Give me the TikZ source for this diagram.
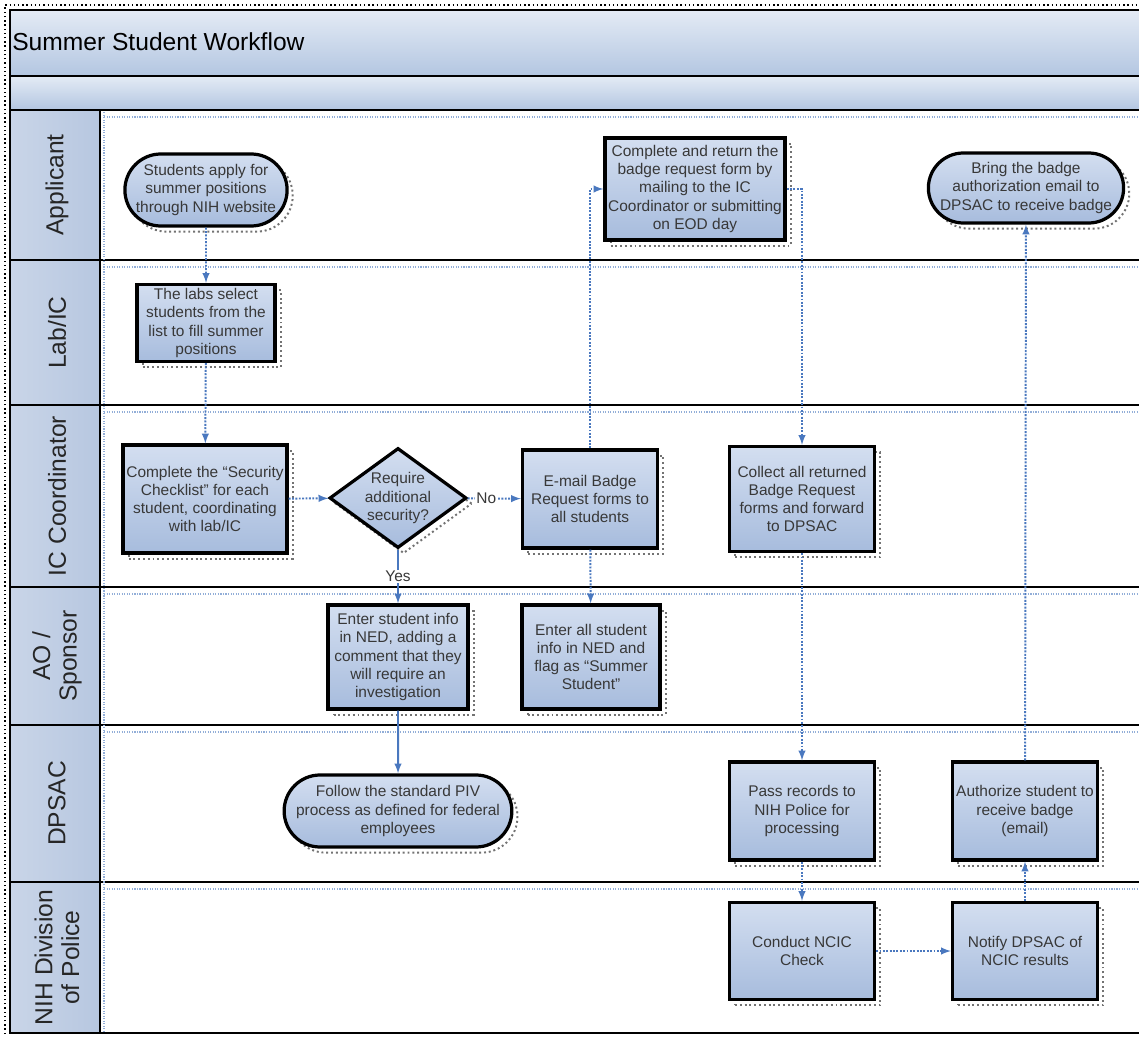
\documentclass[tikz,border=0pt]{standalone}
\usepackage{fontspec}
\setmainfont{Liberation Sans}
\usetikzlibrary{shapes.geometric,shapes.misc,arrows,shadows,calc}

\definecolor{laneblue}{HTML}{C9D5E8}
\definecolor{lanedark}{HTML}{B7C7E0}
\definecolor{boxtop}{HTML}{D3DEF0}
\definecolor{boxbot}{HTML}{A7BCDD}
\definecolor{bandtop}{HTML}{E4EBF5}
\definecolor{bandbot}{HTML}{B3C6E1}
\definecolor{flowblue}{HTML}{4A78BF}
\definecolor{inktext}{HTML}{383838}

\newcommand\boxfont{\fontsize{11}{13}\selectfont}
\newcommand\lanefont{\fontsize{17.5}{19}\selectfont}

\begin{document}
\begin{tikzpicture}[x=0.025cm, y=-0.025cm,
  box/.style={draw, line width=2.3pt, top color=boxtop, bottom color=boxbot,
    align=center, inner sep=1pt, font=\boxfont, text=inktext,
    general shadow={shadow xshift=4pt, shadow yshift=-4pt, draw=black!55,
      dotted, line width=1.4pt}},
  term/.style={box, rounded rectangle},
  decide/.style={box, diamond, aspect=1.37, inner sep=0pt},
  lanelbl/.style={font=\lanefont, align=center, text=black!85},
  flow/.style={-latex, densely dotted, line width=1.4pt, draw=flowblue},
  flowsolid/.style={-latex, line width=1.4pt, draw=flowblue}]
  \useasboundingbox (0,0) rectangle (1139,1037);

  % Title bands
  \draw[line width=1.8pt, top color=bandtop, bottom color=bandbot] (10,10) rectangle (1150,76);
  \draw[line width=1.8pt, top color=bandtop, bottom color=bandbot] (10,76) rectangle (1150,110);
  \node[anchor=west, font=\fontsize{17.5}{20}\selectfont, inner sep=0pt] (title) at (12,42) {Summer Student Workflow};
  \draw[dotted, line width=1pt] (5,1034) -- (5,5) -- (1150,5);

  % Lanes
  \foreach \ya/\yb/\lbl [count=\i] in {110/260/Applicant, 260/405/{Lab/IC},
      405/587/{IC Coordinator}, 587/725/{AO /\\Sponsor}, 725/882/DPSAC,
      882/1033/{NIH Division\\of Police}} {
    \draw[line width=1.8pt, left color=laneblue, right color=lanedark] (10,\ya) rectangle (100,\yb);
    \draw[line width=1.8pt] (100,\yb) -- (1150,\yb);
    \draw[densely dotted, flowblue!60, line width=0.8pt] (104,\ya+7) -- (1150,\ya+7);
    \node[lanelbl, rotate=90] (lane\i) at (57,{(\ya+\yb)/2}) {\lbl};
  }
  \draw[densely dotted, flowblue!60, line width=0.8pt] (104,112) -- (104,1031);

  % Applicant
  \node[term, minimum width=4.125cm, minimum height=1.8cm] (apply) at (206,190)
    {Students apply for\\summer positions\\through NIH website};
  \node[box, minimum width=4.5cm, minimum height=2.55cm] (return) at (695,189)
    {Complete and return the\\badge request form by\\mailing to the IC\\Coordinator or submitting\\on EOD day};
  \node[term, minimum width=4.95cm, minimum height=1.75cm] (bring) at (1026,188)
    {Bring the badge\\authorization email to\\DPSAC to receive badge};

  % Lab/IC
  \node[box, minimum width=3.45cm, minimum height=1.925cm] (labs) at (206,323)
    {The labs select\\students from the\\list to fill summer\\positions};

  % IC Coordinator
  \node[box, minimum width=4.1cm, minimum height=2.7cm] (check) at (205,499)
    {Complete the “Security\\Checklist” for each\\student, coordinating\\with lab/IC};
  \node[decide, minimum width=3.425cm, minimum height=2.5cm] (secure) at (398,498)
    {Require\\additional\\security?};
  \node[box, minimum width=3.375cm, minimum height=2.45cm] (email) at (590,499)
    {E-mail Badge\\Request forms to\\all students};
  \node[box, minimum width=3.625cm, minimum height=2.625cm] (collect) at (802,499)
    {Collect all returned\\Badge Request\\forms and forward\\to DPSAC};

  % AO / Sponsor
  \node[box, minimum width=3.5cm, minimum height=2.6cm] (ned) at (398,657)
    {Enter student info\\in NED, adding a\\comment that they\\will require an\\investigation};
  \node[box, minimum width=3.45cm, minimum height=2.6cm] (nedall) at (591,657)
    {Enter all student\\info in NED and\\flag as “Summer\\Student”};

  % DPSAC
  \node[term, minimum width=5.4cm, minimum height=1.8cm] (piv) at (398,811)
    {Follow the standard PIV\\process as defined for federal\\employees};
  \node[box, minimum width=3.625cm, minimum height=2.45cm] (pass) at (802,811)
    {Pass records to\\NIH Police for\\processing};
  \node[box, minimum width=3.625cm, minimum height=2.45cm] (auth) at (1025,811)
    {Authorize student to\\receive badge\\(email)};

  % NIH Division of Police
  \node[box, minimum width=3.625cm, minimum height=2.425cm] (ncic) at (802,951)
    {Conduct NCIC\\Check};
  \node[box, minimum width=3.625cm, minimum height=2.425cm] (notify) at (1025,951)
    {Notify DPSAC of\\NCIC results};

  % Connectors
  \draw[flow] (apply) -- (labs);
  \draw[flow] (labs) -- (check);
  \draw[flow] (check) -- (secure);
  \draw[flow] (secure) -- node[pos=0.35, fill=white, inner sep=1pt, font=\boxfont, text=inktext] (nolbl) {No} (email);
  \draw[flowsolid] (secure) -- node[pos=0.5, fill=white, inner sep=1pt, font=\boxfont, text=inktext] (yeslbl) {Yes} (ned);
  \draw[flow] (email.north) |- (return.west);
  \draw[flow] (return.east) -| (collect.north);
  \draw[flow] (email) -- (nedall);
  \draw[flowsolid] (ned) -- (piv);
  \draw[flow] (collect) -- (pass);
  \draw[flow] (pass) -- (ncic);
  \draw[flow] (ncic) -- (notify);
  \draw[flow] (notify) -- (auth);
  \draw[flow] (auth) -- (bring);
\end{tikzpicture}
\end{document}
